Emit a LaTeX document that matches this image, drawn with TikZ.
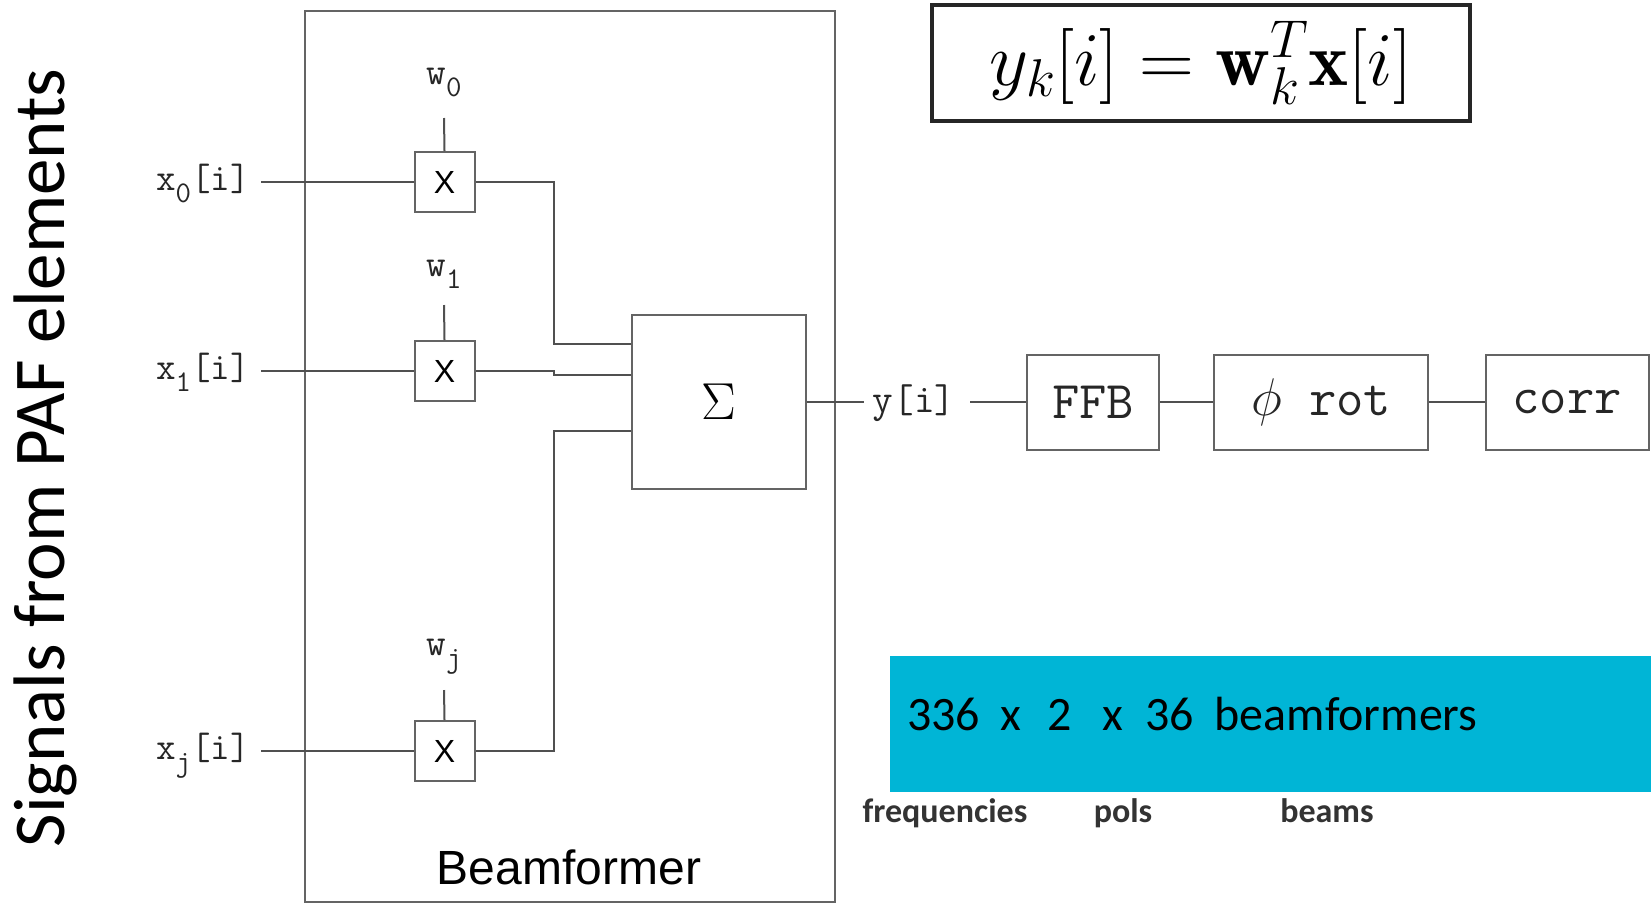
\RequirePackage{fix-cm}
\documentclass[tikz,border=0pt]{standalone}
\usepackage{fontspec}
\usetikzlibrary{calc}
\newfontfamily\carlito{Carlito}
\newfontfamily\arialf{Liberation Sans}
\definecolor{cyanbox}{RGB}{0,181,214}
\definecolor{wirec}{RGB}{80,80,80}
\definecolor{boxc}{RGB}{100,100,100}
\newcommand{\ttsub}[2]{\texttt{#1}\raisebox{-0.32em}{\fontsize{30}{30}\selectfont\texttt{#2}}}
\tikzset{
  wire/.style={draw=wirec, line width=2pt},
  blk/.style={draw=boxc, line width=2pt, inner sep=0pt},
  mulbox/.style={blk, minimum width=60pt, minimum height=60pt, font=\arialf\fontsize{32}{36}\selectfont},
  ttlab/.style={font=\ttfamily\addfontfeatures{FakeBold=1.5}\fontsize{38}{42}\selectfont, text=black!85, inner sep=0pt},
  procbox/.style={blk, minimum height=95pt, font=\ttfamily\addfontfeatures{FakeBold=2.5}\fontsize{53}{60}\selectfont, text=black!85},
  dimlab/.style={font=\carlito\bfseries\fontsize{34}{38}\selectfont, text=black!80, inner sep=0pt, anchor=base}
}
\begin{document}
\begin{tikzpicture}[x=1pt,y=-1pt]
\useasboundingbox (0,0) rectangle (1651,906);
\fill[white] (0,0) rectangle (1651,906);

% vertical title
\node[rotate=90, font=\carlito\fontsize{73}{80}\selectfont, inner sep=0pt] (sig) at (45,458) {Signals from PAF elements};

% beamformer frame
\node[blk, minimum width=530pt, minimum height=891pt] (bfbox) at (570,456.5) {};
\node[font=\arialf\fontsize{48}{52}\selectfont, inner sep=0pt] (bflab) at (569,867) {Beamformer};

% multipliers
\node[mulbox] (m0) at (444.5,182) {X};
\node[mulbox] (m1) at (444.5,371) {X};
\node[mulbox] (mj) at (444.5,751) {X};

% weights
\node[ttlab, anchor=base] (w0) at (444,84) {\ttsub{w}{0}};
\node[ttlab, anchor=base] (w1) at (444,276) {\ttsub{w}{1}};
\node[ttlab, anchor=base] (wj) at (444,655) {\ttsub{w}{j}};
\draw[wire] (m0.north) -- ([yshift=-34pt]w0.base);
\draw[wire] (m1.north) -- ([yshift=-29pt]w1.base);
\draw[wire] (mj.north) -- ([yshift=-35pt]wj.base);

% inputs
\node[ttlab, anchor=base east] (x0) at (250,190) {\ttsub{x}{0}\texttt{[i]}};
\node[ttlab, anchor=base east] (x1) at (250,379) {\ttsub{x}{1}\texttt{[i]}};
\node[ttlab, anchor=base east] (xj) at (250,759) {\ttsub{x}{j}\texttt{[i]}};
\draw[wire] ($(m0.west -| x0.east)+(11,0)$) -- (m0.west);
\draw[wire] ($(m1.west -| x1.east)+(11,0)$) -- (m1.west);
\draw[wire] ($(mj.west -| xj.east)+(11,0)$) -- (mj.west);

% summer
\node[blk, minimum width=174pt, minimum height=174pt, font=\fontsize{52}{56}\selectfont] (sum) at (719,402) {$\Sigma$};
\draw[wire] (m0.east) -- ++(78,0) |- ([yshift=58pt]sum.west);
\draw[wire] (m1.east) -- ++(78,0) -- ++(0,4) -- ([yshift=27pt]sum.west);
\draw[wire] (mj.east) -- ++(78,0) |- ([yshift=-29pt]sum.west);

% output chain
\node[ttlab, font=\ttfamily\addfontfeatures{FakeBold=1.5}\fontsize{40}{44}\selectfont, anchor=base] (ylab) at (914,412) {y[i]};
\node[procbox, minimum width=132pt] (ffb) at (1093,402) {FFB};
\node[procbox, minimum width=214pt] (rot) at (1321,402) {$\phi$ rot};
\node[procbox, minimum width=163pt] (corr) at (1567,402) {corr};
\draw[wire] (sum.east) -- ($(ylab.west |- sum.east)+(-9,0)$);
\draw[wire] ($(ylab.east |- sum.east)+(15,0)$) -- (ffb.west);
\draw[wire] (ffb.east) -- (rot.west);
\draw[wire] (rot.east) -- (corr.west);

% equation
\node[draw=black!85, line width=3.5pt, minimum width=538pt, minimum height=116pt, font=\fontsize{76}{84}\selectfont] (eq) at (1201,63) {$y_k[i] = \mathbf{w}_k^T\mathbf{x}[i]$};

% cyan banner
\node[fill=cyanbox, minimum width=761pt, minimum height=136pt, inner sep=0pt, anchor=north west] (cb) at (890,656) {};
\node[font=\carlito\fontsize{48}{54}\selectfont, inner sep=0pt, anchor=base west] (cbt) at (907,730) {336\hspace{20pt}x\hspace{27pt}2\hspace{30pt}x\hspace{22pt}36\hspace{21pt}beamformers};

% dimension labels
\node[dimlab] (lfreq) at (945,822) {frequencies};
\node[dimlab] (lpols) at (1123,822) {pols};
\node[dimlab] (lbeams) at (1327,822) {beams};
\end{tikzpicture}
\end{document}
